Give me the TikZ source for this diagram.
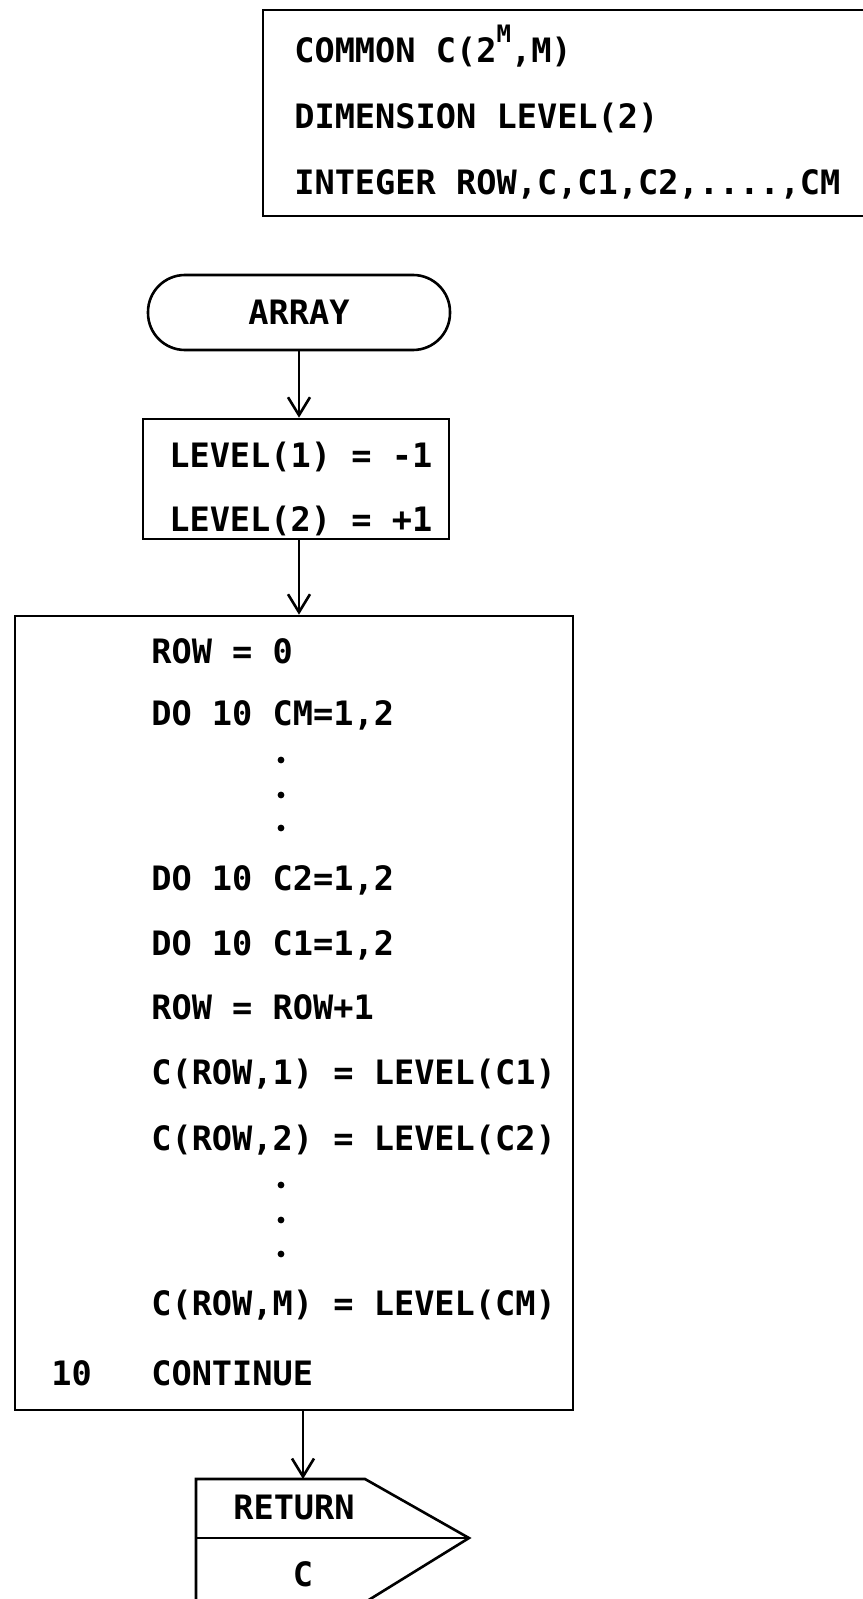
\documentclass[tikz,border=0pt]{standalone}
\usepackage{fontspec}
\setmonofont{DejaVu Sans Mono}
\usetikzlibrary{arrows.meta}

\begin{document}
\begin{tikzpicture}[x=0.5pt, y=-0.5pt, line width=1.3pt,
  every node/.style={font=\ttfamily\bfseries\fontsize{16.8}{20}\selectfont, inner sep=0pt},
  code/.style={anchor=base west},
  flow/.style={-{Straight Barb[length=9pt,width=11pt]}}]

\useasboundingbox (0,0) rectangle (862,1599);

% declarations, open to the right
\draw (875,10) -- (263,10) -- (263,216) -- (875,216);
\node[code] (common) at (293,63) {COMMON C(2\raisebox{1.1ex}{\fontsize{12}{12}\selectfont M},M)};
\node[code] (dimen) at (293,129) {DIMENSION LEVEL(2)};
\node[code] (intg) at (293,195) {INTEGER ROW,C,C1,C2,....,CM};

% entry
\node[draw, rounded corners=18.5pt, minimum width=151pt, minimum height=37.5pt] (arr) at (299,312.5) {ARRAY};

% levels
\node[draw, minimum width=153pt, minimum height=60pt] (lvl) at (296,479) {};
\node[code] (lvla) at (168,467) {LEVEL(1) = -1};
\node[code] (lvlb) at (168,531) {LEVEL(2) = +1};

% nested loops
\node[draw, minimum width=279pt, minimum height=397pt] (loop) at (294,1013) {};
\node[code] (row0) at (150,663) {ROW = 0};
\node[code] (dom) at (150,725) {DO 10 CM=1,2};
\fill (281,760) circle (1.7pt);
\fill (281,795) circle (1.7pt);
\fill (281,828) circle (1.7pt);
\node[code] (dotwo) at (150,890) {DO 10 C2=1,2};
\node[code] (doone) at (150,955) {DO 10 C1=1,2};
\node[code] (rowinc) at (150,1019) {ROW = ROW+1};
\node[code] (cone) at (150,1084) {C(ROW,1) = LEVEL(C1)};
\node[code] (ctwo) at (150,1150) {C(ROW,2) = LEVEL(C2)};
\fill (281,1185) circle (1.7pt);
\fill (281,1220) circle (1.7pt);
\fill (281,1254) circle (1.7pt);
\node[code] (cm) at (150,1315) {C(ROW,M) = LEVEL(CM)};
\node[code] (lab) at (50,1385) {10};
\node[code] (cont) at (150,1385) {CONTINUE};

% return with argument
\coordinate (rettop) at (303,1479);
\draw (196,1601) -- (196,1479) -- (365,1479) -- (469,1538) -- (367,1601);
\draw (196,1538) -- (469,1538);
\node (ret) at (294,1507) {RETURN};
\node (retval) at (303,1574) {C};

\draw[flow] (arr.south) -- (arr.south |- lvl.north);
\draw[flow] (arr.south |- lvl.south) -- (arr.south |- loop.north);
\draw[flow] (loop.south -| rettop) -- (rettop);

\end{tikzpicture}
\end{document}
